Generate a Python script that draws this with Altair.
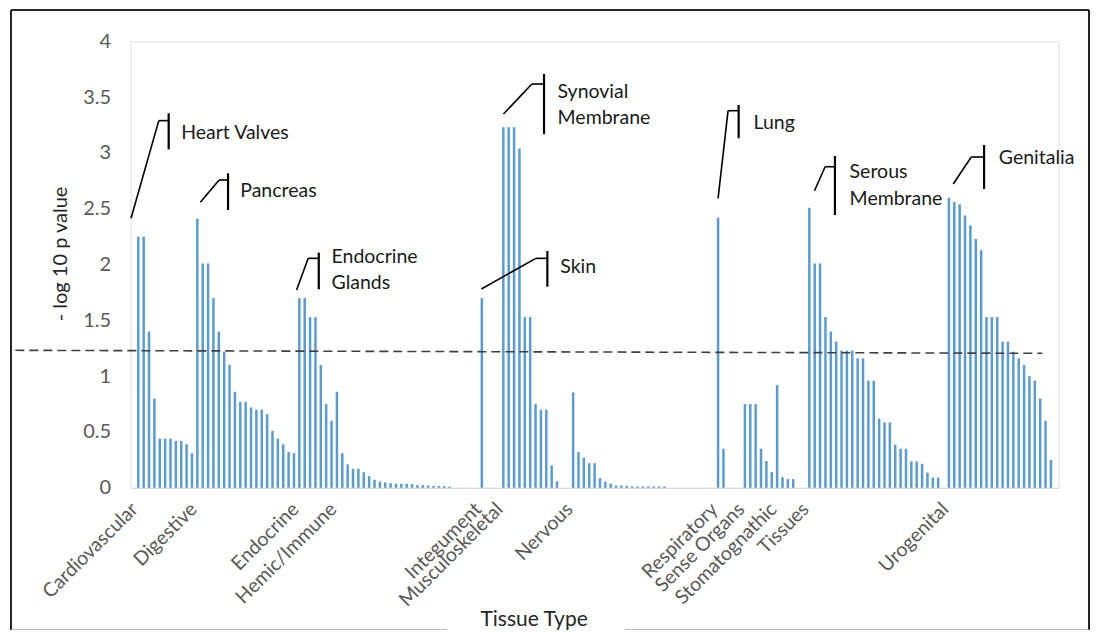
import altair as alt
import pandas as pd

# ---------------- data ----------------
group_names = ["Cardiovascular", "Digestive", "Endocrine", "Hemic/Immune", "Integument",
               "Musculoskeletal", "Nervous", "Respiratory", "Sense Organs",
               "Stomatognathic", "Tissues", "Urogenital"]
group_starts = [0, 11, 30, 37, 64, 68, 81, 108, 113, 119, 125, 151]

values = [
    2.25, 2.25, 1.40, 0.80, 0.44, 0.44, 0.44, 0.42, 0.42, 0.39, 0.31,            # Cardiovascular
    2.41, 2.01, 2.01, 1.70, 1.40, 1.22, 1.10, 0.86, 0.77, 0.77, 0.72, 0.70, 0.70,
    0.66, 0.51, 0.44, 0.39, 0.32, 0.31,                                          # Digestive
    1.70, 1.70, 1.53, 1.53, 1.10, 0.75, 0.60,                                    # Endocrine
    0.86, 0.31, 0.21, 0.17, 0.17, 0.14, 0.105, 0.072, 0.056, 0.048, 0.042, 0.036,
    0.036, 0.036, 0.033, 0.024, 0.024, 0.021, 0.018, 0.015, 0.015, 0.01,
    0, 0, 0, 0, 0,                                                               # Hemic/Immune
    1.70, 0, 0, 0,                                                               # Integument
    3.23, 3.23, 3.23, 3.04, 1.53, 1.53, 0.75, 0.70, 0.70, 0.20, 0.057, 0, 0,     # Musculoskeletal
    0.855, 0.32, 0.27, 0.22, 0.22, 0.087, 0.054, 0.036, 0.02, 0.02, 0.018,
    0.012, 0.012, 0.012, 0.012, 0.012, 0.012, 0.012, 0, 0, 0, 0, 0, 0, 0, 0, 0,  # Nervous
    2.42, 0.35, 0, 0, 0,                                                         # Respiratory
    0.75, 0.75, 0.75, 0.35, 0.24, 0.14,                                          # Sense Organs
    0.92, 0.096, 0.078, 0.078, 0, 0,                                             # Stomatognathic
    2.51, 2.01, 2.01, 1.53, 1.40, 1.31, 1.23, 1.23, 1.23, 1.16, 1.16, 0.96, 0.96,
    0.62, 0.586, 0.586, 0.386, 0.35, 0.35, 0.236, 0.236, 0.215, 0.137, 0.092,
    0.092, 0,                                                                    # Tissues
    2.60, 2.56, 2.54, 2.44, 2.35, 2.23, 2.13, 1.53, 1.53, 1.53, 1.31, 1.31, 1.22,
    1.16, 1.10, 1.00, 0.96, 0.80, 0.60, 0.25,                                    # Urogenital
]

y_ticks = [0, 0.5, 1, 1.5, 2, 2.5, 3, 3.5, 4]

# significance threshold (dashed line), ends in slot units / value units
threshold_x = [-22.9, 168.4]
threshold_y = [1.232, 1.205]

# callouts: tip -> elbow -> bracket
ann_tip_x = [-1.35, 11.56, 29.49, 68.02, 63.91, 108.0, 125.97, 151.8]
ann_tip_y = [2.415, 2.558, 1.772, 3.349, 1.781, 2.594, 2.662, 2.722]
ann_elbow_x = [3.82, 15.06, 31.65, 73.31, 74.05, 109.86, 127.93, 155.16]
ann_elbow_y = [3.29, 2.758, 2.056, 3.618, 2.056, 3.379, 2.877, 2.964]
ann_bracket_x = [5.66, 16.72, 33.62, 75.58, 76.2, 111.83, 129.77, 157.55]
ann_bracket_top = [3.356, 2.818, 2.107, 3.708, 2.122, 3.43, 2.973, 3.072]
ann_bracket_bottom = [3.033, 2.489, 1.779, 3.168, 1.802, 3.132, 2.444, 2.677]

ann_text = ["Heart Valves", "Pancreas", "Endocrine", "Glands", "Synovial", "Membrane",
            "Skin", "Lung", "Serous", "Membrane", "Genitalia"]
ann_text_x = [8.0, 19.0, 36.0, 36.0, 78.1, 78.1, 78.6, 114.6, 132.5, 132.5, 160.3]
ann_text_y = [3.18, 2.662, 2.071, 1.832, 3.547, 3.313, 1.976, 3.266, 2.830, 2.588, 2.955]

# ---------------- tables ----------------
bars = pd.DataFrame({"slot": list(range(len(values))), "value": values})

seg_rows = []
for i in range(len(ann_tip_x)):
    seg_rows.append({"x": ann_tip_x[i], "y": ann_tip_y[i], "x2": ann_elbow_x[i], "y2": ann_elbow_y[i], "w": 1.6})
    seg_rows.append({"x": ann_elbow_x[i], "y": ann_elbow_y[i], "x2": ann_bracket_x[i], "y2": ann_elbow_y[i], "w": 1.6})
    seg_rows.append({"x": ann_bracket_x[i], "y": ann_bracket_top[i], "x2": ann_bracket_x[i], "y2": ann_bracket_bottom[i], "w": 2.2})
segs = pd.DataFrame(seg_rows)

texts = pd.DataFrame({"x": ann_text_x, "y": ann_text_y, "t": ann_text})
thr = pd.DataFrame({"x": [threshold_x[0]], "x2": [threshold_x[1]],
                    "y": [threshold_y[0]], "y2": [threshold_y[1]]})

label_expr = " : ".join(
    f"datum.value == {s} ? '{n}'" for s, n in zip(group_starts, group_names)
) + " : ''"

FONT = "Lato"
GREY = "#595959"

xscale = alt.Scale(domain=[-0.5, len(values) - 0.5], nice=False, zero=False)
yscale = alt.Scale(domain=[0, 4], nice=False)

x_axis = alt.Axis(values=group_starts, labelExpr=label_expr, labelAngle=-45,
                  labelAlign="right", labelBaseline="middle", labelPadding=18,
                  labelOffset=-4,
                  labelOverlap=False, labelFlush=False, labelBound=False,
                  labelFont=FONT, labelFontSize=19.5, labelColor=GREY,
                  ticks=False, grid=False, domain=True, domainColor="#d9d9d9",
                  domainWidth=1.2, title="Tissue Type", titleFont=FONT,
                  titleFontSize=21, titleFontWeight="normal", titleColor="#262626",
                  titleX=403, titleY=132, titleBaseline="middle", titleAlign="center")

y_axis = alt.Axis(values=y_ticks, format="~g", labelFont=FONT, labelFontSize=20,
                  labelColor=GREY, labelPadding=20, ticks=False, grid=False,
                  domain=False, title="- log 10 p value", titleFont=FONT,
                  titleFontSize=20, titleFontWeight="normal", titleColor="#262626",
                  titleX=-70, titleY=212, titleBaseline="middle", titleAlign="center",
                  titleAngle=-90)

bar_layer = alt.Chart(bars).mark_bar(size=2.5, color="#5b9bd5").encode(
    x=alt.X("slot:Q", scale=xscale, axis=x_axis),
    y=alt.Y("value:Q", scale=yscale, axis=y_axis),
)

thr_layer = alt.Chart(thr).mark_rule(color="#404040", strokeWidth=1.6,
                                     strokeDash=[9, 5]).encode(
    x="x:Q", x2="x2:Q", y="y:Q", y2="y2:Q")

seg_layer = alt.Chart(segs).mark_rule(color="#000000").encode(
    x="x:Q", x2="x2:Q", y="y:Q", y2="y2:Q",
    strokeWidth=alt.StrokeWidth("w:Q", scale=None, legend=None))

text_layer = alt.Chart(texts).mark_text(align="left", baseline="middle", font=FONT,
                                        fontSize=19.5, color="#1a1a1a").encode(
    x="x:Q", y="y:Q", text="t:N")

# chart frame (decoration, pixels relative to the plot area)
one = pd.DataFrame({"a": [0]})
frame_top = alt.Chart(one).mark_rule(color="#262626", strokeWidth=2).encode(
    x=alt.value(-119.6), x2=alt.value(958.4), y=alt.value(-31.4))
frame_left = alt.Chart(one).mark_rule(color="#262626", strokeWidth=2).encode(
    x=alt.value(-119.6), y=alt.value(-31.4), y2=alt.value(588.6))
frame_right = alt.Chart(one).mark_rule(color="#262626", strokeWidth=2).encode(
    x=alt.value(958.4), y=alt.value(-31.4), y2=alt.value(588.6))
frame_bot1 = alt.Chart(one).mark_rule(color="#a6a6a6", strokeWidth=1.5).encode(
    x=alt.value(-119.6), x2=alt.value(316.4), y=alt.value(588.6))
frame_bot2 = alt.Chart(one).mark_rule(color="#a6a6a6", strokeWidth=1.5).encode(
    x=alt.value(494.4), x2=alt.value(958.4), y=alt.value(588.6))

chart = alt.layer(bar_layer, thr_layer, seg_layer, text_layer,
                  frame_top, frame_left, frame_right, frame_bot1, frame_bot2).properties(
    width=928, height=446.4,
    autosize=alt.AutoSizeParams(type="none"),
    padding={"left": 122.6, "top": 33.4, "right": 31.4, "bottom": 142},
).configure_view(stroke=None).configure(background="white")

chart.save("out.html", embed_options={"renderer": "svg", "actions": False})
